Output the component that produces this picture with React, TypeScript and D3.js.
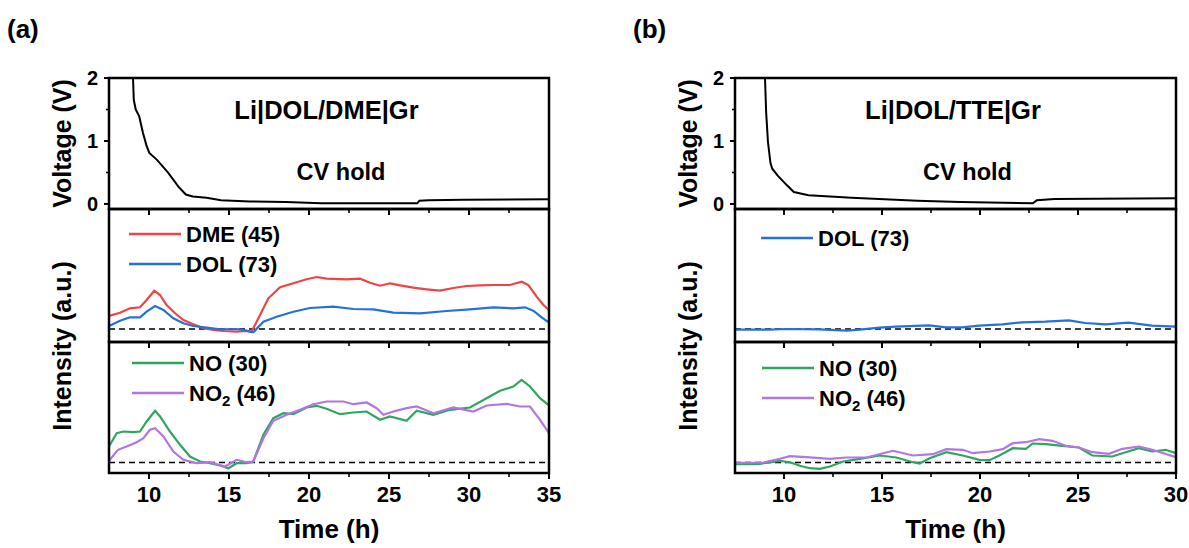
import React from 'react';
import * as d3 from 'd3';

// time (h), voltage (V)
const voltageA: [number, number][] = [
  [9.0, 2.0], [9.05, 1.65], [9.17, 1.5], [9.39, 1.39], [9.62, 1.13], [9.84, 0.93], [10.02, 0.81],
  [10.5, 0.7], [11.18, 0.5], [11.85, 0.27], [12.3, 0.15], [12.74, 0.12], [13.6, 0.1], [14.5, 0.06],
  [16.3, 0.04], [18.54, 0.03], [20.78, 0.012], [23.0, 0.01], [26.76, 0.01], [26.9, 0.05],
  [27.47, 0.06], [29.7, 0.065], [35, 0.075],
];
const voltageB: [number, number][] = [
  [9.03, 2.0], [9.09, 1.45], [9.18, 0.99], [9.31, 0.65], [9.4, 0.56], [9.68, 0.45], [10.14, 0.3],
  [10.5, 0.19], [11.25, 0.14], [13.45, 0.1], [16.8, 0.05], [19, 0.03], [22.7, 0.01], [22.9, 0.06],
  [23.8, 0.08], [30, 0.09],
];

// intensity (a.u.), baseline = 0
const dmeA: [number, number][] = [
  [7.5, 1.3], [8.19, 1.63], [8.81, 2.07], [9.44, 2.17], [9.85, 2.9], [10.33, 3.83], [10.69, 3.4],
  [11.1, 2.4], [11.63, 1.57], [12.15, 0.9], [12.77, 0.47], [13.4, 0.07], [14.02, -0.1], [14.65, -0.2],
  [15.48, -0.27], [16.1, -0.2], [16.4, -0.3], [16.94, 1.4], [17.46, 3.07], [18.19, 4.17], [19.02, 4.57],
  [19.85, 4.97], [20.48, 5.2], [21.1, 5.03], [22.35, 4.97], [23.19, 5.03], [23.81, 4.63], [24.44, 4.33],
  [25.06, 4.57], [25.69, 4.37], [26.52, 4.13], [27.35, 3.97], [28.19, 3.83], [29.02, 4.1], [29.85, 4.3],
  [30.69, 4.37], [31.52, 4.4], [32.56, 4.4], [33.29, 4.73], [33.71, 4.4], [34.23, 3.23], [34.65, 2.4],
  [35, 1.9],
];
const dolA: [number, number][] = [
  [7.5, 0.3], [8.19, 0.83], [8.81, 1.17], [9.44, 1.17], [9.85, 1.73], [10.38, 2.3], [10.9, 1.9],
  [11.52, 1.07], [12.15, 0.57], [12.77, 0.3], [13.6, 0.13], [14.44, -0.03], [15.48, 0], [16.1, -0.17],
  [16.52, -0.33], [17.15, 0.73], [17.98, 1.23], [19.02, 1.73], [20.06, 2.1], [21.52, 2.23], [22.77, 2.0],
  [24.02, 1.97], [25.27, 1.63], [26.94, 1.57], [28.6, 1.8], [30.06, 1.97], [31.52, 2.17], [32.77, 2.07],
  [33.5, 2.17], [34.02, 1.83], [34.54, 1.17], [35, 0.63],
];
const noA: [number, number][] = [
  [7.5, 1.6], [7.98, 2.93], [8.4, 3.1], [9.02, 3.03], [9.44, 3.1], [9.85, 4.1], [10.38, 5.17],
  [10.69, 4.6], [11.31, 3.1], [11.94, 1.77], [12.56, 0.6], [13.19, 0.1], [13.81, -0.07], [14.44, -0.3],
  [14.96, -0.57], [15.48, -0.07], [16.1, -0.07], [16.52, 0.1], [17.15, 2.77], [17.77, 4.43], [18.4, 4.93],
  [19.02, 4.83], [19.85, 5.5], [20.48, 5.67], [21.1, 5.37], [21.94, 4.83], [22.77, 5.0], [23.6, 5.1],
  [24.44, 4.27], [25.06, 4.6], [26.1, 4.17], [26.73, 5.17], [27.77, 4.77], [28.81, 5.27], [30.06, 5.5],
  [31.1, 6.43], [31.94, 7.17], [32.77, 7.6], [33.29, 8.27], [33.81, 7.6], [34.44, 6.43], [35, 5.7],
];
const no2A: [number, number][] = [
  [7.5, 0.17], [8.06, 1.27], [8.6, 1.6], [9.23, 2.03], [9.65, 2.43], [10.06, 3.27], [10.38, 3.43],
  [10.9, 2.6], [11.52, 1.1], [12.15, 0.27], [12.98, -0.07], [13.81, 0.03], [14.75, -0.4], [15.48, 0.27],
  [16.1, 0.03], [16.52, 0.1], [17.15, 2.43], [17.77, 4.17], [18.6, 4.77], [19.44, 5.27], [20.27, 5.83],
  [21.1, 6.1], [22.15, 6.1], [22.77, 5.83], [23.6, 6.0], [24.23, 5.43], [24.65, 4.77], [25.27, 5.1],
  [26.1, 5.43], [26.73, 5.6], [27.77, 4.93], [29.02, 5.5], [30.27, 5.1], [31.1, 5.7], [32.35, 5.87],
  [33.19, 5.6], [33.81, 5.6], [34.44, 4.27], [35, 2.93],
];
const dolB: [number, number][] = [
  [7.5, -0.07], [9.27, -0.07], [10.1, 0.0], [11.79, -0.03], [13.2, -0.17], [13.87, -0.07], [14.87, 0.13],
  [15.7, 0.23], [17.4, 0.37], [18.26, 0.17], [19.1, 0.17], [19.95, 0.33], [21.14, 0.47], [22.15, 0.67],
  [23.34, 0.73], [24.53, 0.87], [25.37, 0.6], [26.39, 0.47], [27.58, 0.63], [28.77, 0.33], [30, 0.23],
];
const noB: [number, number][] = [
  [7.5, -0.17], [8.77, -0.13], [9.79, 0.17], [10.3, 0.03], [10.81, -0.33], [11.32, -0.57], [11.83, -0.63],
  [12.34, -0.4], [13.02, 0.1], [13.87, 0.37], [14.88, 0.7], [15.73, 0.5], [16.58, 0.03], [16.92, -0.1],
  [17.43, 0.43], [18.28, 1.03], [19.12, 0.7], [19.97, 0.27], [20.48, 0.23], [20.99, 0.7], [21.67, 1.43],
  [22.34, 1.37], [22.68, 1.9], [23.36, 1.83], [24.2, 1.67], [25.05, 1.5], [25.73, 0.7], [26.75, 0.6],
  [27.43, 1.03], [28.11, 1.43], [28.79, 1.1], [29.47, 1.27], [30, 0.93],
];
const no2B: [number, number][] = [
  [7.5, -0.03], [8.94, 0.0], [9.79, 0.37], [10.3, 0.63], [11.15, 0.53], [12.34, 0.37], [13.19, 0.5],
  [14.21, 0.5], [15.56, 1.17], [16.58, 0.7], [17.6, 0.83], [18.28, 1.33], [19.12, 1.27], [19.63, 0.93],
  [20.48, 1.1], [21.16, 1.33], [21.67, 1.93], [22.34, 2.03], [23.02, 2.33], [23.7, 2.17], [24.37, 1.67],
  [25.05, 1.5], [25.73, 1.03], [26.58, 0.87], [27.26, 1.37], [28.11, 1.6], [28.79, 1.27], [30, 0.53],
];

const xTicksA = [10, 15, 20, 25, 30, 35];
const xTicksB = [10, 15, 20, 25, 30];
const voltTicks = [0, 1, 2];

const RED = '#ef4346';
const BLUE = '#2570df';
const GREEN = '#2fa560';
const PURPLE = '#b276e3';

const FONT = 'Arial, "Liberation Sans", Helvetica, sans-serif';
const TOP = 78, V_BOT = 209, M_BOT = 342, B_BOT = 473;

type Series = { data: [number, number][]; color: string; name: React.ReactNode };

function Panel(props: {
  id: string; left: number; right: number; xMax: number; xTicks: number[]; label: string;
  title: string; voltage: [number, number][]; mid: Series[]; bot: Series[];
  midLeg: [number, number]; botLeg: [number, number];
}) {
  const { id, left, right, xMax, xTicks, label, title, voltage, mid, bot, midLeg, botLeg } = props;
  const x = d3.scaleLinear().domain([7.5, xMax]).range([left, right]);
  const yV = d3.scaleLinear().domain([-0.08, 2]).range([V_BOT, TOP]);
  const yM = d3.scaleLinear().domain([-1.3, 12]).range([M_BOT, V_BOT]);
  const yB = d3.scaleLinear().domain([-1.05, 12.05]).range([B_BOT, M_BOT]);
  const minor = d3.range(10, xMax + 0.01, 2.5).filter((t) => t % 5 !== 0);
  const lineOf = (y: d3.ScaleLinear<number, number>) =>
    d3.line<[number, number]>().x((d) => x(d[0])).y((d) => y(d[1]));
  const cx = (left + right) / 2;

  const frame = (y0: number, y1: number, key: string) => (
    <g key={key}>
      <rect x={left} y={y0} width={right - left} height={y1 - y0} fill="none" stroke="#000" strokeWidth={2.5} />
      {xTicks.map((t) => (
        <line key={'M' + t} x1={x(t)} x2={x(t)} y1={y1} y2={y1 + 6} stroke="#000" strokeWidth={2} />
      ))}
      {minor.map((t) => (
        <line key={'m' + t} x1={x(t)} x2={x(t)} y1={y1} y2={y1 + 4} stroke="#000" strokeWidth={1.6} />
      ))}
    </g>
  );

  const legend = (series: Series[], pos: [number, number]) =>
    series.map((s, i) => (
      <g key={i}>
        <line x1={pos[0]} x2={pos[0] + 52} y1={pos[1] + i * 30} y2={pos[1] + i * 30} stroke={s.color} strokeWidth={2.4} />
        <text x={pos[0] + 57} y={pos[1] + i * 30 + 8} fontSize={22} fontWeight="bold">{s.name}</text>
      </g>
    ));

  return (
    <g fontFamily={FONT}>
      <defs>
        <clipPath id={id + 'v'}><rect x={left} y={TOP} width={right - left} height={V_BOT - TOP} /></clipPath>
        <clipPath id={id + 'm'}><rect x={left} y={V_BOT} width={right - left} height={M_BOT - V_BOT} /></clipPath>
        <clipPath id={id + 'b'}><rect x={left} y={M_BOT} width={right - left} height={B_BOT - M_BOT} /></clipPath>
      </defs>
      <text x={left - 102} y={38} fontSize={26} fontWeight="bold">{label}</text>

      {/* voltage */}
      <path d={lineOf(yV)(voltage) || ''} fill="none" stroke="#000" strokeWidth={2} clipPath={`url(#${id}v)`} />
      <text x={cx - 2.5} y={119} fontSize={25.5} fontWeight="bold" textAnchor="middle">{title}</text>
      <text x={cx + 12} y={180} fontSize={23.5} fontWeight="bold" textAnchor="middle">CV hold</text>
      {voltTicks.map((v) => (
        <g key={v}>
          <line x1={left - 5} x2={left} y1={yV(v)} y2={yV(v)} stroke="#000" strokeWidth={2} />
          <text x={left - 11} y={yV(v) + 7} fontSize={20} fontWeight="bold" textAnchor="end">{v}</text>
        </g>
      ))}
      {[0.5, 1.5].map((v) => (
        <line key={v} x1={left - 3} x2={left} y1={yV(v)} y2={yV(v)} stroke="#000" strokeWidth={1.6} />
      ))}
      <text transform={`translate(${left - 38},${(TOP + V_BOT) / 2}) rotate(-90)`} fontSize={25} fontWeight="bold" textAnchor="middle">Voltage (V)</text>

      {/* middle */}
      <line x1={left} x2={right} y1={yM(0)} y2={yM(0)} stroke="#000" strokeWidth={1.4} strokeDasharray="6,4" />
      {mid.map((s, i) => (
        <path key={i} d={lineOf(yM)(s.data) || ''} fill="none" stroke={s.color} strokeWidth={2.2} clipPath={`url(#${id}m)`} />
      ))}
      {legend(mid, midLeg)}

      {/* bottom */}
      <line x1={left} x2={right} y1={yB(0)} y2={yB(0)} stroke="#000" strokeWidth={1.4} strokeDasharray="6,4" />
      {bot.map((s, i) => (
        <path key={i} d={lineOf(yB)(s.data) || ''} fill="none" stroke={s.color} strokeWidth={2.2} clipPath={`url(#${id}b)`} />
      ))}
      {legend(bot, botLeg)}
      <text transform={`translate(${left - 38},${(V_BOT + B_BOT) / 2 + 5}) rotate(-90)`} fontSize={25} fontWeight="bold" textAnchor="middle">Intensity (a.u.)</text>

      {frame(TOP, V_BOT, 'fv')}
      {frame(V_BOT, M_BOT, 'fm')}
      {frame(M_BOT, B_BOT, 'fb')}
      {xTicks.map((t) => (
        <text key={t} x={x(t)} y={502} fontSize={22} fontWeight="bold" textAnchor="middle">{t}</text>
      ))}
      <text x={cx} y={538} fontSize={26} fontWeight="bold" textAnchor="middle">Time (h)</text>
    </g>
  );
}

const no2Name = (
  <>
    NO<tspan dy={5} fontSize={15}>2</tspan><tspan dy={-5}> (46)</tspan>
  </>
);

export default function App() {
  return (
    <svg width={1189} height={548} style={{ position: 'absolute', left: 0, top: 0, background: '#fff' }}>
      <rect width={1189} height={548} fill="#fff" />
      <Panel
        id="a" left={109} right={549} xMax={35} xTicks={xTicksA} label="(a)" title="Li|DOL/DME|Gr"
        voltage={voltageA}
        mid={[{ data: dmeA, color: RED, name: 'DME (45)' }, { data: dolA, color: BLUE, name: 'DOL (73)' }]}
        bot={[{ data: noA, color: GREEN, name: 'NO (30)' }, { data: no2A, color: PURPLE, name: no2Name }]}
        midLeg={[129, 234]} botLeg={[132, 363]}
      />
      <Panel
        id="b" left={735} right={1176} xMax={30} xTicks={xTicksB} label="(b)" title="Li|DOL/TTE|Gr"
        voltage={voltageB}
        mid={[{ data: dolB, color: BLUE, name: 'DOL (73)' }]}
        bot={[{ data: noB, color: GREEN, name: 'NO (30)' }, { data: no2B, color: PURPLE, name: no2Name }]}
        midLeg={[761, 238]} botLeg={[762, 368]}
      />
    </svg>
  );
}
